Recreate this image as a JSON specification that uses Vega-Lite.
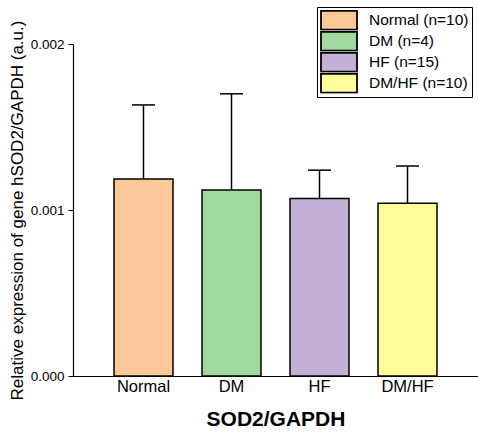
{
  "$schema": "https://vega.github.io/schema/vega-lite/v6.json",
  "width": 405,
  "height": 332,
  "autosize": {"type": "none"},
  "padding": {"left": 73, "top": 44, "right": 0, "bottom": 59},
  "background": "white",
  "config": {
    "view": {"stroke": null},
    "font": "Liberation Sans"
  },
  "data": {
    "values": [
      {"group": "Normal", "legend": "Normal (n=10)", "mean": 0.001187, "upper": 0.001633},
      {"group": "DM", "legend": "DM (n=4)", "mean": 0.00112, "upper": 0.0017},
      {"group": "HF", "legend": "HF (n=15)", "mean": 0.00107, "upper": 0.00124},
      {"group": "DM/HF", "legend": "DM/HF (n=10)", "mean": 0.00104, "upper": 0.001265}
    ]
  },
  "encoding": {
    "x": {
      "field": "group",
      "type": "nominal",
      "sort": ["Normal", "DM", "HF", "DM/HF"],
      "scale": {"paddingInner": 0.33, "paddingOuter": 0.466},
      "axis": {
        "title": "SOD2/GAPDH",
        "titleFontSize": 21,
        "titleFontWeight": "bold",
        "titleColor": "black",
        "titlePadding": 14,
        "labelAngle": 0,
        "labelFontSize": 16.5,
        "labelColor": "black",
        "labelPadding": 2,
        "ticks": false,
        "domainColor": "black",
        "domainWidth": 1.2
      }
    }
  },
  "layer": [
    {
      "mark": {"type": "rule", "color": "black", "strokeWidth": 1.5},
      "encoding": {
        "y": {"field": "mean", "type": "quantitative"},
        "y2": {"field": "upper"}
      }
    },
    {
      "mark": {"type": "tick", "color": "black", "size": 23, "thickness": 1.5, "opacity": 1},
      "encoding": {
        "y": {"field": "upper", "type": "quantitative"}
      }
    },
    {
      "mark": {"type": "bar", "stroke": "black", "strokeWidth": 1.5, "opacity": 1},
      "encoding": {
        "y": {
          "field": "mean",
          "type": "quantitative",
          "scale": {"domain": [0, 0.002], "nice": false},
          "axis": {
            "title": "Relative expression of gene hSOD2/GAPDH (a.u.)",
            "titleFontSize": 17,
            "titleFontWeight": "normal",
            "titleColor": "black",
            "titlePadding": 4,
            "values": [0, 0.001, 0.002],
            "format": ".3f",
            "labelFontSize": 13.5,
            "labelColor": "black",
            "labelPadding": 4,
            "tickSize": 5,
            "tickColor": "black",
            "domainColor": "black",
            "domainWidth": 1.2,
            "grid": false
          }
        },
        "color": {
          "field": "legend",
          "type": "nominal",
          "scale": {
            "domain": ["Normal (n=10)", "DM (n=4)", "HF (n=15)", "DM/HF (n=10)"],
            "range": ["#FBC899", "#9FD99B", "#C2B1D5", "#FFFE9B"]
          },
          "legend": {
            "title": null,
            "orient": "none",
            "legendX": 244,
            "legendY": -37,
            "strokeColor": "black",
            "padding": 3,
            "symbolType": "M-1,-0.95L2.6,-0.95L2.6,0.95L-1,0.95Z",
            "symbolSize": 400,
            "symbolStrokeColor": "black",
            "symbolStrokeWidth": 1.8,
            "symbolOpacity": 1,
            "symbolFillOpacity": 1,
            "labelFontSize": 15.5,
            "labelColor": "black",
            "labelOffset": 27,
            "clipHeight": 20.5,
            "rowPadding": 0
          }
        }
      }
    }
  ]
}
